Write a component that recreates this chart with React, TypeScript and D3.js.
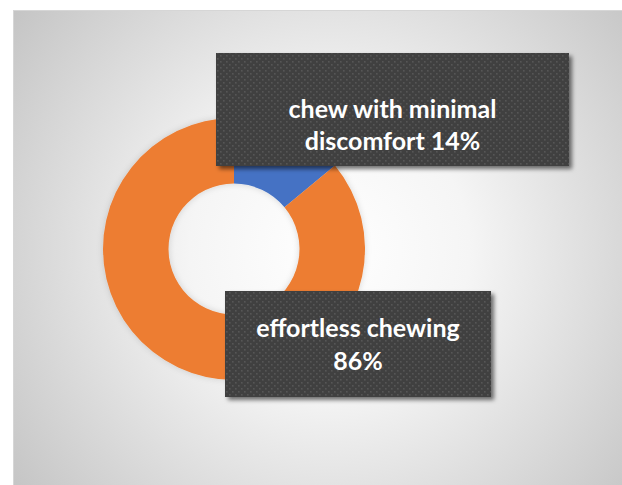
import React from "react";
import * as d3 from "d3";

const categories = ["chew with minimal discomfort", "effortless chewing"];
const values = [14, 86];
const labelLines = [
  ["chew with minimal", "discomfort 14%"],
  ["effortless chewing", "86%"],
];
const colors = ["#4472C4", "#ED7D31"];

const W = 622;
const H = 485;

export default function App() {
  const cx = 234;
  const cy = 249;
  const outerR = 131;
  const innerR = 65.5;

  const pie = d3
    .pie<number>()
    .sort(null)
    .startAngle(0)
    .endAngle(2 * Math.PI)
    .value((d) => d);
  const arcs = pie(values);
  const arc = d3.arc<d3.PieArcDatum<number>>().innerRadius(innerR).outerRadius(outerR);

  // label boxes (moved data labels), relative to donut center
  const boxes = [
    { x: 216 - cx, y: 53 - cy, w: 353, h: 113, tx: 392.5 - cx, ty: [118 - cy, 150 - cy] },
    { x: 225 - cx, y: 291 - cy, w: 266, h: 106, tx: 358 - cx, ty: [337 - cy, 370 - cy] },
  ];

  return (
    <svg
      width={W}
      height={H}
      style={{ position: "absolute", left: 0, top: 0, display: "block" }}
    >
      <defs>
        <radialGradient id="bg" gradientUnits="userSpaceOnUse" cx={330} cy={250} r={400}>
          <stop offset="0" stopColor="#ffffff" />
          <stop offset="0.35" stopColor="#f5f5f5" />
          <stop offset="1" stopColor="#c4c4c4" />
        </radialGradient>
        <pattern id="dots" width={6} height={6} patternUnits="userSpaceOnUse">
          <rect width={6} height={6} fill="#404040" />
          <rect x={1} y={1} width={1.6} height={1.6} fill="#575757" />
          <rect x={4} y={4} width={1.6} height={1.6} fill="#575757" />
        </pattern>
        <filter id="shadow" x="-10%" y="-10%" width="130%" height="140%">
          <feDropShadow dx={3} dy={3} stdDeviation={2.2} floodColor="#000" floodOpacity={0.55} />
        </filter>
        <filter id="dshadow" x="-10%" y="-10%" width="130%" height="130%">
          <feDropShadow dx={0} dy={0} stdDeviation={3} floodColor="#000" floodOpacity={0.15} />
        </filter>
      </defs>
      <rect x={0} y={0} width={W} height={H} fill="#ffffff" />
      <rect x={13.5} y={10.5} width={W} height={H} fill="url(#bg)" stroke="#d6d6d6" strokeWidth={1} />
      <g transform={`translate(${cx},${cy})`}>
        <g filter="url(#dshadow)">
          {arcs.map((a, i) => (
            <path key={categories[i]} d={arc(a) || ""} fill={colors[i]} />
          ))}
        </g>
        {boxes.map((b, i) => (
          <g key={"lbl" + i}>
            <rect x={b.x} y={b.y} width={b.w} height={b.h} fill="url(#dots)" filter="url(#shadow)" />
            {labelLines[i].map((line, j) => (
              <text
                key={j}
                x={b.tx}
                y={b.ty[j]}
                textAnchor="middle"
                fill="#ffffff"
                fontFamily="Lato, 'Open Sans', sans-serif"
                fontWeight={700}
                fontSize={25}
              >
                {line}
              </text>
            ))}
          </g>
        ))}
      </g>
    </svg>
  );
}
